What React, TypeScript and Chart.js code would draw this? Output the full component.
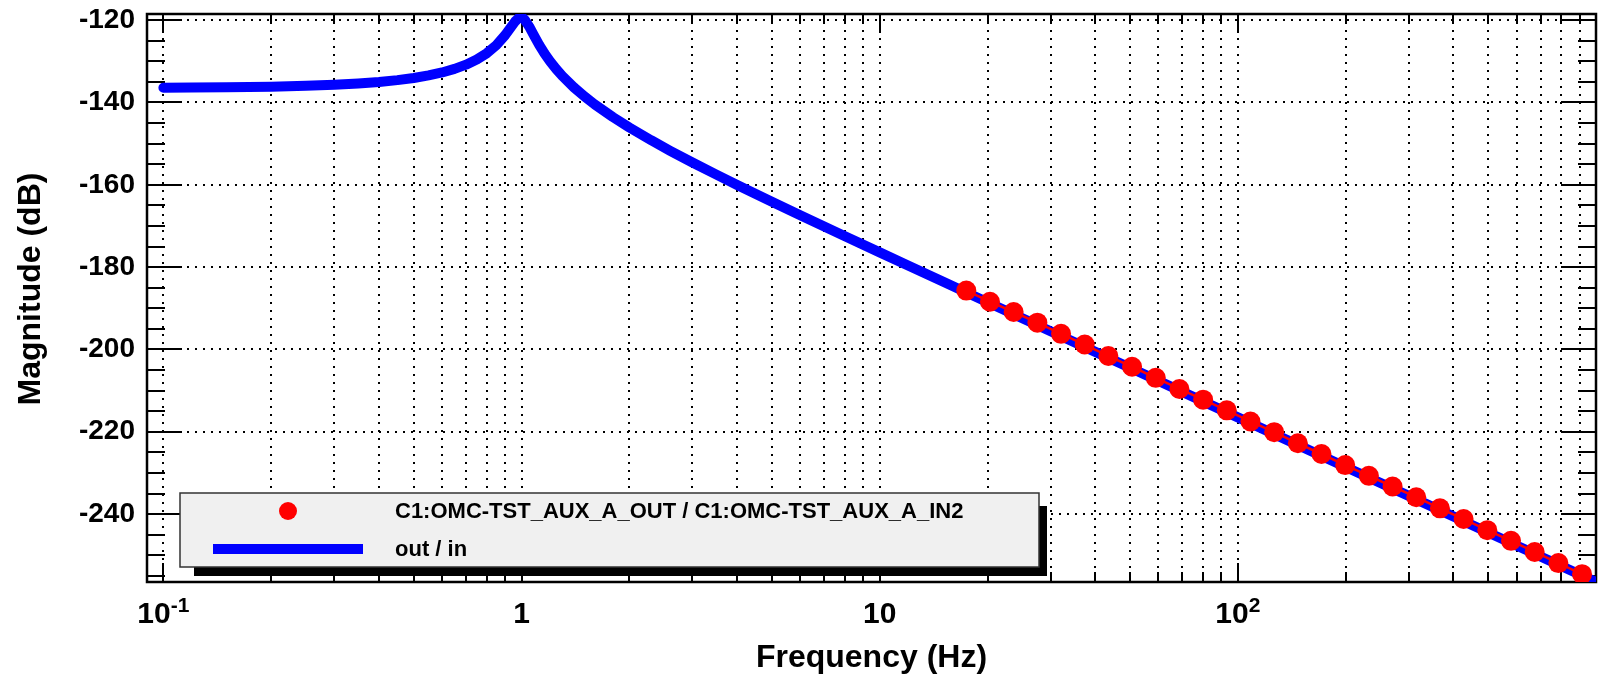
import React, { useEffect, useRef } from "react";
import { Chart, registerables } from "chart.js";

Chart.register(...registerables);

// ---- data ----
const modelFreqHz = [
  0.1, 0.12, 0.15, 0.2, 0.25, 0.3, 0.35, 0.4, 0.45, 0.5,
  0.55, 0.6, 0.65, 0.7, 0.75, 0.8, 0.85, 0.9, 0.93, 0.96,
  0.98, 0.99, 1.0, 1.01, 1.02, 1.05, 1.08, 1.12, 1.16, 1.2,
  1.25, 1.3, 1.4, 1.5, 1.6, 1.8, 2.0, 2.3, 2.6, 3.0,
  3.5, 4.0, 5.0, 6.0, 7.0, 8.0, 10, 12, 15, 20,
  30, 40, 50, 70, 100, 150, 200, 300, 500, 700,
  1000,
];
const modelMagDb = [
  -136.41, -136.38, -136.3, -136.15, -135.95, -135.69, -135.38, -135.0, -134.56, -134.04,
  -133.42, -132.7, -131.84, -130.81, -129.56, -128.02, -126.09, -123.64, -121.93, -120.29,
  -119.53, -119.36, -119.35, -119.53, -119.87, -121.52, -123.51, -125.99, -128.13, -129.95,
  -131.9, -133.57, -136.32, -138.56, -140.45, -143.56, -146.08, -149.17, -151.73, -154.57,
  -157.53, -160.03, -164.11, -167.38, -170.13, -172.49, -176.41, -179.61, -183.51, -188.52,
  -195.58, -200.58, -204.45, -210.3, -216.5, -223.54, -228.54, -235.58, -244.46, -250.3,
  -256.5,
];

const measFreqHz = [
  17.45, 20.32, 23.66, 27.56, 32.09, 37.36, 43.5, 50.66, 58.99, 68.69,
  79.99, 93.13, 108.45, 126.3, 147.1, 171.2, 199.4, 232.2, 270.4, 314.9,
  366.7, 426.9, 497.2, 579.0, 674.2, 785.1, 914.2,
];
const measMagDb = [
  -185.7, -188.4, -190.9, -193.5, -196.2, -198.8, -201.6, -204.2, -206.9, -209.6,
  -212.2, -214.8, -217.5, -220.1, -222.8, -225.4, -228.1, -230.7, -233.3, -235.9,
  -238.6, -241.2, -243.9, -246.5, -249.2, -251.9, -254.6,
];

const seriesLabels = ["C1:OMC-TST_AUX_A_OUT / C1:OMC-TST_AUX_A_IN2", "out / in"];

// ---- axes / ticks ----
const xMin = 0.09;
const xMax = 1000;
const yMin = -256.5;
const yMax = -118.5;
const xMajorTicks = [0.1, 1, 10, 100];
const xMinorTicks = [
  0.2, 0.3, 0.4, 0.5, 0.6, 0.7, 0.8, 0.9,
  2, 3, 4, 5, 6, 7, 8, 9,
  20, 30, 40, 50, 60, 70, 80, 90,
  200, 300, 400, 500, 600, 700, 800, 900,
];
const xLabelValues = [0.1, 1, 10, 100];
const xLabelBase = ["10", "1", "10", "10"];
const xLabelExp = ["-1", "", "", "2"];
const yMajorTicks = [-240, -220, -200, -180, -160, -140, -120];
const yMinorTicks = [
  -255, -250, -245, -235, -230, -225, -215, -210, -205, -195, -190,
  -185, -175, -170, -165, -155, -150, -145, -135, -130, -125,
];
const xTitle = "Frequency (Hz)";
const yTitle = "Magnitude (dB)";

const SANS = '"Liberation Sans", Arial, Helvetica, sans-serif';

const rootLook = {
  id: "rootLook",
  beforeDatasetsDraw(chart: any) {
    const { ctx, chartArea: a, scales } = chart;
    const xs = scales.x;
    const ys = scales.y;
    ctx.save();
    // dotted grid
    ctx.strokeStyle = "#000";
    ctx.lineWidth = 2;
    ctx.setLineDash([2, 6]);
    ctx.beginPath();
    for (const v of [...xMajorTicks, ...xMinorTicks]) {
      const px = Math.round(xs.getPixelForValue(v));
      ctx.moveTo(px, a.top);
      ctx.lineTo(px, a.bottom);
    }
    for (const v of yMajorTicks) {
      const py = Math.round(ys.getPixelForValue(v));
      ctx.moveTo(a.left, py);
      ctx.lineTo(a.right, py);
    }
    ctx.stroke();
    ctx.setLineDash([]);
    // tick marks (inside the frame)
    ctx.beginPath();
    const seg = (x1: number, y1: number, x2: number, y2: number) => {
      ctx.moveTo(x1, y1);
      ctx.lineTo(x2, y2);
    };
    for (const v of yMajorTicks) {
      const py = Math.round(ys.getPixelForValue(v));
      seg(a.left, py, a.left + 35, py);
      seg(a.right, py, a.right - 35, py);
    }
    for (const v of yMinorTicks) {
      const py = Math.round(ys.getPixelForValue(v));
      seg(a.left, py, a.left + 18, py);
      seg(a.right, py, a.right - 18, py);
    }
    for (const v of xMajorTicks) {
      const px = Math.round(xs.getPixelForValue(v));
      seg(px, a.bottom, px, a.bottom - 19);
      seg(px, a.top, px, a.top + 19);
    }
    for (const v of xMinorTicks) {
      const px = Math.round(xs.getPixelForValue(v));
      seg(px, a.bottom, px, a.bottom - 10);
      seg(px, a.top, px, a.top + 10);
    }
    ctx.stroke();
    // frame
    ctx.lineWidth = 2.5;
    ctx.strokeRect(a.left, a.top, a.right - a.left, a.bottom - a.top);
    ctx.restore();
  },
  afterDraw(chart: any) {
    const { ctx, chartArea: a, scales } = chart;
    const xs = scales.x;
    ctx.save();
    ctx.fillStyle = "#000";
    // x tick labels with superscripts
    ctx.textBaseline = "alphabetic";
    ctx.textAlign = "left";
    for (let i = 0; i < xLabelValues.length; i++) {
      const px = xs.getPixelForValue(xLabelValues[i]);
      ctx.font = `bold 30px ${SANS}`;
      const wb = ctx.measureText(xLabelBase[i]).width;
      ctx.font = `bold 21px ${SANS}`;
      const we = xLabelExp[i] ? ctx.measureText(xLabelExp[i]).width : 0;
      const start = px - (wb + we) / 2;
      ctx.font = `bold 30px ${SANS}`;
      ctx.fillText(xLabelBase[i], start, a.bottom + 41);
      if (xLabelExp[i]) {
        ctx.font = `bold 21px ${SANS}`;
        ctx.fillText(xLabelExp[i], start + wb, a.bottom + 30);
      }
    }
    // axis titles
    ctx.font = `bold 32px ${SANS}`;
    ctx.textAlign = "center";
    ctx.fillText(xTitle, (a.left + a.right) / 2, a.bottom + 85);
    ctx.save();
    ctx.translate(40, 289);
    ctx.rotate(-Math.PI / 2);
    ctx.fillText(yTitle, 0, 0);
    ctx.restore();

    // legend box with shadow
    const L = 180, T = 493, R = 1039, B = 567;
    ctx.fillStyle = "#000";
    ctx.fillRect(L + 14, T + 13, R - L - 6, B - T - 4);
    ctx.fillStyle = "#f0f0f0";
    ctx.fillRect(L, T, R - L, B - T);
    ctx.strokeStyle = "#333";
    ctx.lineWidth = 1.5;
    ctx.strokeRect(L, T, R - L, B - T);

    const ds = chart.data.datasets;
    // entry 1: marker
    ctx.fillStyle = ds[0].pointBackgroundColor;
    ctx.beginPath();
    ctx.arc(288, 511, 9, 0, Math.PI * 2);
    ctx.fill();
    // entry 2: line
    ctx.strokeStyle = ds[1].borderColor;
    ctx.lineWidth = ds[1].borderWidth;
    ctx.lineCap = "butt";
    ctx.beginPath();
    ctx.moveTo(213, 549);
    ctx.lineTo(363, 549);
    ctx.stroke();

    ctx.fillStyle = "#000";
    ctx.textAlign = "left";
    ctx.font = `bold 22px ${SANS}`;
    ctx.fillText(ds[0].label, 395, 518);
    ctx.fillText(ds[1].label, 395, 556);
    ctx.restore();
  },
};

export default function App() {
  const canvasRef = useRef<HTMLCanvasElement | null>(null);

  useEffect(() => {
    document.body.style.margin = "0";
    const canvas = canvasRef.current;
    if (!canvas) return;
    const measPts = measFreqHz.map((f, i) => ({ x: f, y: measMagDb[i] }));
    const modelPts = modelFreqHz.map((f, i) => ({ x: f, y: modelMagDb[i] }));

    const chart = new Chart(canvas, {
      type: "line",
      data: {
        datasets: [
          {
            label: seriesLabels[0],
            data: measPts,
            borderColor: "#ff0000",
            borderWidth: 2.5,
            backgroundColor: "#ff0000",
            pointBackgroundColor: "#ff0000",
            pointBorderWidth: 0,
            pointRadius: 10,
            showLine: true,
            tension: 0,
          } as any,
          {
            label: seriesLabels[1],
            data: modelPts,
            borderColor: "#0000ff",
            borderWidth: 10,
            pointRadius: 0,
            borderJoinStyle: "round",
            borderCapStyle: "round",
            tension: 0,
          } as any,
        ],
      },
      options: {
        animation: false,
        responsive: true,
        maintainAspectRatio: false,
        layout: { padding: { top: 14, right: 1, left: 0, bottom: 0 } },
        plugins: {
          legend: { display: false },
          tooltip: { enabled: false },
        },
        events: [],
        scales: {
          x: {
            type: "logarithmic",
            min: xMin,
            max: xMax,
            grid: { display: false, drawTicks: false },
            border: { display: false },
            ticks: { display: false },
            afterFit: (s: any) => {
              s.height = 94;
              s.paddingLeft = 0;
              s.paddingRight = 0;
            },
          },
          y: {
            type: "linear",
            min: yMin,
            max: yMax,
            grid: { display: false, drawTicks: false },
            border: { display: false },
            afterBuildTicks: (s: any) => {
              s.ticks = yMajorTicks.map((v) => ({ value: v }));
            },
            ticks: {
              color: "#000",
              padding: 12,
              font: { family: SANS, weight: "bold", size: 28 },
              callback: (v: any) => String(v),
            },
            afterFit: (s: any) => {
              s.width = 147;
              s.paddingTop = 0;
              s.paddingBottom = 0;
            },
          },
        },
      } as any,
      plugins: [rootLook as any],
    });
    return () => chart.destroy();
  }, []);

  return (
    <div style={{ position: "relative", width: 1606, height: 676, background: "#fff" }}>
      <canvas ref={canvasRef} />
    </div>
  );
}
